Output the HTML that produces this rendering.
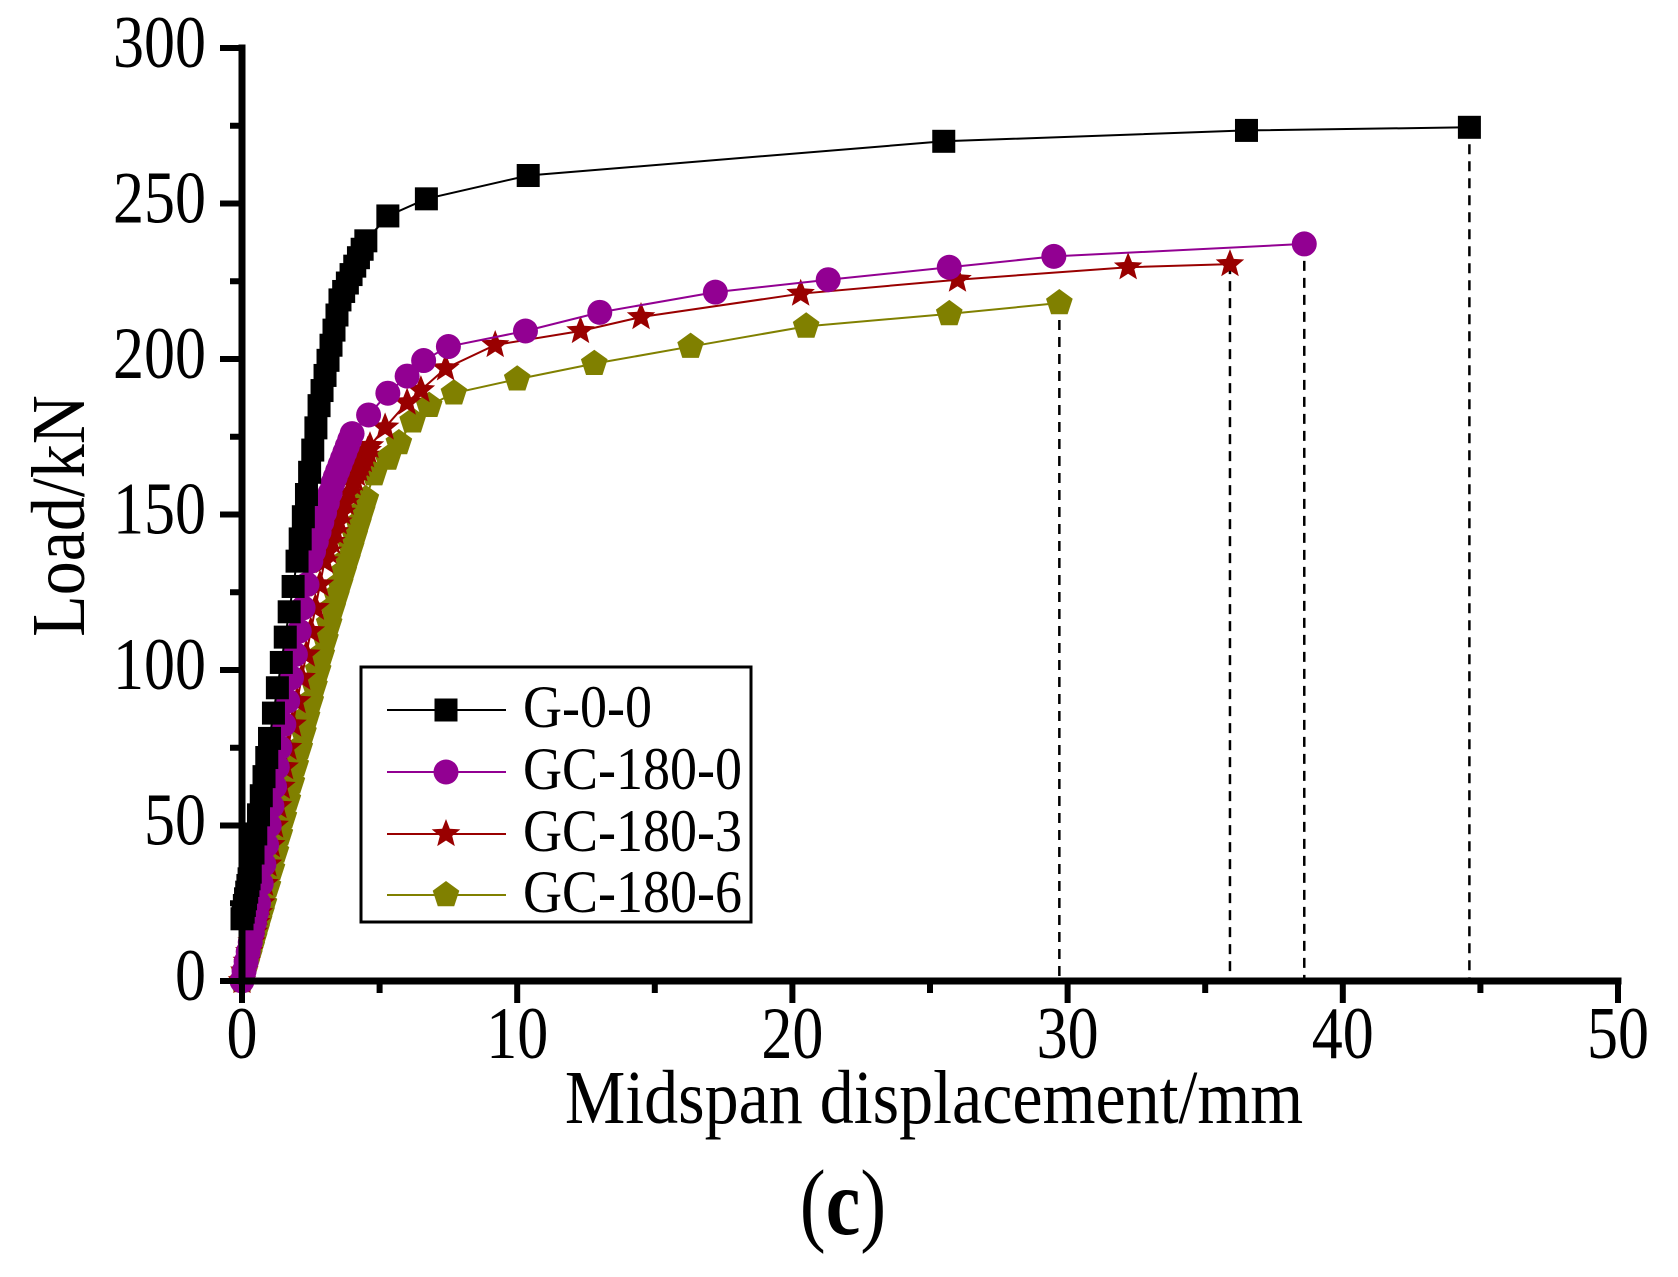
<!DOCTYPE html>
<html><head><meta charset="utf-8"><style>
html,body{margin:0;padding:0;background:#fff;width:1678px;height:1277px;overflow:hidden}
text{font-family:"Liberation Serif",serif}
</style></head><body>
<svg id="s" width="1678" height="1277" viewBox="0 0 1678 1277" xmlns="http://www.w3.org/2000/svg">
<g id="plot"></g>
<g stroke="#000" stroke-width="7" fill="none" stroke-linecap="square">
<line x1="242" y1="48" x2="242" y2="981"/>
<line x1="242" y1="981" x2="1618" y2="981"/>
</g>
<g id="ticks" stroke="#000" stroke-width="6"></g>
<g id="lbl" fill="#000"></g>
<text transform="translate(934,1123) scale(1,1.12)" font-size="68" text-anchor="middle">Midspan displacement/mm</text>
<text transform="translate(84,516) rotate(-90) scale(1,1.12)" font-size="68" text-anchor="middle">Load/kN</text>
<text transform="translate(843,1234) scale(1,1.2)" font-size="78" text-anchor="middle">(<tspan font-weight="bold">c</tspan>)</text>
<rect x="361" y="667" width="390" height="255" fill="#fff" stroke="#000" stroke-width="3"/>
<g id="leg"></g>
<g id="legt" font-size="54" fill="#000"></g>
</svg>
<script>
var NS="http://www.w3.org/2000/svg";
function X(m){return 242+m*27.52}function Y(k){return 981-k*3.11}
function el(p,t,a){var e=document.createElementNS(NS,t);for(var k in a)e.setAttribute(k,a[k]);p.appendChild(e);return e}
var tk=document.getElementById('ticks'),lb=document.getElementById('lbl');
for(var i=0;i<=12;i++){var y=Y(i*25);el(tk,'line',{x1:242-(i%2?12:22),y1:y,x2:242,y2:y});
 if(i%2==0){var t=el(lb,'text',{transform:"translate(206,"+(y+19)+") scale(1,1.2)","font-size":62,"text-anchor":"end"});t.textContent=String(i*25);}}
for(var i=0;i<=10;i++){var x=X(i*5);el(tk,'line',{x1:x,y1:981,x2:x,y2:981+(i%2?12:22)});
 if(i%2==0){var t=el(lb,'text',{transform:"translate("+x+",1058) scale(1,1.2)","font-size":62,"text-anchor":"middle"});t.textContent=String(i*5);}}
function dense(pts,n){var o=[];for(var i=0;i<pts.length-1;i++){var a=pts[i],b=pts[i+1];for(var j=0;j<n;j++){o.push([a[0]+(b[0]-a[0])*j/n,a[1]+(b[1]-a[1])*j/n]);}}o.push(pts[pts.length-1]);return o}
var S=[
{c:"#000",m:"sq",early:dense([[0,20],[0.3,35],[1,78],[2,135],[2.8,185],[3.56,219],[4.5,238]],7),late:[[5.3,246],[6.7,251.5],[10.4,259],[25.5,270],[36.5,273.5],[44.6,274.5]]},
{c:"#920092",m:"ci",early:dense([[0,0],[0.6,25],[1.38,75],[2.5,135],[3.3,160],[4,176]],8),late:[[4.6,182],[5.3,189],[6,194.5],[6.6,199.5],[7.5,204],[10.3,209],[13,215],[17.2,221.5],[21.3,225.5],[25.7,229.5],[29.5,233],[38.6,237]]},
{c:"#990000",m:"st",early:dense([[0,0],[0.7,25],[1.67,75],[3,135],[4,160],[4.65,172]],8),late:[[5.2,178],[6,186],[6.5,190],[7.4,197],[9.2,204.5],[12.3,209],[14.5,213.5],[20.3,221],[26,225.5],[32.2,229.5],[35.9,230.5]]},
{c:"#808000",m:"pe",early:dense([[0,0],[0.8,25],[2.1,75],[3.3,120],[4.5,155]],9),late:[[4.8,163],[5.3,168],[5.7,173],[6.2,180],[6.8,185],[7.7,189],[10,193.5],[12.8,198.5],[16.3,204],[20.5,210.5],[25.7,214.5],[29.7,218]]}
];
function marker(g,m,x,y,c){
 if(m=="sq")el(g,'rect',{x:x-11.5,y:y-11.5,width:23,height:23,fill:c});
 else if(m=="ci")el(g,'circle',{cx:x,cy:y,r:12.5,fill:c});
 else if(m=="st"){var p=[];for(var i=0;i<10;i++){var r=i%2?6.5:15,a=-Math.PI/2+i*Math.PI/5;p.push((x+r*Math.cos(a)).toFixed(1)+","+(y+r*Math.sin(a)).toFixed(1));}el(g,'polygon',{points:p.join(" "),fill:c});}
 else {var p=[];for(var i=0;i<5;i++){var a=-Math.PI/2+i*2*Math.PI/5;p.push((x+14*Math.cos(a)).toFixed(1)+","+(y+14*Math.sin(a)).toFixed(1));}el(g,'polygon',{points:p.join(" "),fill:c});}
}
var g=document.getElementById('plot');
S.forEach(function(s){var last=s.late[s.late.length-1];
 el(g,'line',{x1:X(last[0]),y1:Y(last[1]),x2:X(last[0]),y2:981,stroke:"#000","stroke-width":2.5,"stroke-dasharray":"10,7"});});
S.slice().reverse().forEach(function(s){var all=s.early.concat(s.late);
 el(g,'polyline',{points:all.map(function(p){return X(p[0])+","+Y(p[1])}).join(" "),fill:"none",stroke:s.c,"stroke-width":2});
 all.forEach(function(p){marker(g,s.m,X(p[0]),Y(p[1]),s.c)});});
var lg=document.getElementById('leg'),tg=document.getElementById('legt');
var names=["G-0-0","GC-180-0","GC-180-3","GC-180-6"];
S.forEach(function(s,i){var y=[710,772,834,895][i];
 el(lg,'line',{x1:387,y1:y,x2:506,y2:y,stroke:s.c,"stroke-width":2});marker(lg,s.m,446,y,s.c);
 var t=el(tg,'text',{transform:"translate(523,"+(y+17)+") scale(1,1.12)"});t.textContent=names[i];});
</script>
</body></html>
